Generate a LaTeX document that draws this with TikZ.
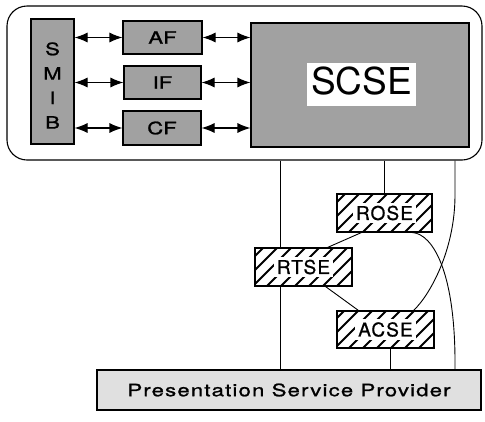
\documentclass[tikz,border=0pt]{standalone}
\usepackage{fontspec}
\setmainfont{TeX Gyre Heros}
\newfontfamily\wfont[FakeStretch=1.3, FakeBold=1.2]{TeX Gyre Heros}
\newfontfamily\pfont[FakeStretch=1.3, FakeBold=1.2, LetterSpace=7]{TeX Gyre Heros}
\newfontfamily\bfont[LetterSpace=6, FakeBold=0.8]{TeX Gyre Heros}
\usetikzlibrary{arrows.meta,calc}
\begin{document}
\begin{tikzpicture}[x=1pt,y=-1pt,
  boxline/.style={draw, line width=1.1pt},
  box/.style={boxline, inner sep=0pt, anchor=center},
  dotbox/.style={box, fill=black!37},
  lightbox/.style={box, fill=black!12},
  hatchbox/.style={box, fill=white,
    path picture={\foreach \k in {-44,-30,...,100}
      \draw[line width=1.9pt] ($(path picture bounding box.south west)+(\k,0)$) -- ++(60,-60);}},
  smallfont/.style={font=\wfont\fontsize{17}{20}\selectfont},
  midfont/.style={font=\bfont\fontsize{19}{22}\selectfont},
  dbl/.style={line width=1.1pt, {Latex[length=13pt,width=10pt]}-{Latex[length=13pt,width=10pt]}},
  conn/.style={line width=0.9pt}
]
\useasboundingbox (0,0) rectangle (485,421);
% outer frame
\node[box, rounded corners=20pt, minimum width=475, minimum height=154] (outer) at (244.5,83) {};
% top boxes
\node[dotbox, minimum width=43, minimum height=125,
  label={[font=\wfont\fontsize{17}{24.5}\selectfont, align=center, yshift=-4pt]center:S\\M\\I\\B}] (smib) at (52.5,81.5) {};
\node[dotbox, smallfont, minimum width=79, minimum height=33] (af) at (162.5,37.5) {AF};
\node[dotbox, smallfont, minimum width=77, minimum height=33] (iff) at (162.5,82.5) {IF};
\node[dotbox, smallfont, minimum width=78, minimum height=34] (cf) at (162,128) {CF};
\node[dotbox, minimum width=218, minimum height=124] (scse) at (360,85) {};
\node[fill=white, inner xsep=4pt, inner ysep=4pt, text height=27pt, text depth=8pt,
  font=\fontsize{37}{40}\selectfont] (scsel) at (361.5,84.5) {SCSE};
% arrows
\draw[dbl] (smib.east |- af) -- (af.west);
\draw[dbl] (smib.east |- iff) -- (iff.west);
\draw[dbl] (smib.east |- cf) -- (cf.west);
\draw[dbl] (af.east) -- (scse.west |- af);
\draw[dbl] (iff.east) -- (scse.west |- iff);
\draw[dbl] (cf.east) -- (scse.west |- cf);
% lower boxes
\node[hatchbox, midfont, minimum width=95, minimum height=38] (rose) at (384.5,213) {\colorbox{white}{ROSE}};
\node[hatchbox, midfont, minimum width=97, minimum height=38] (rtse) at (303.5,267) {\colorbox{white}{RTSE}};
\node[hatchbox, midfont, minimum width=97, minimum height=37] (acse) at (385.5,329.5) {\colorbox{white}{ACSE}};
\node[lightbox, font=\pfont\fontsize{17}{20}\selectfont, minimum width=384, minimum height=40] (pres) at (289,390) {Presentation Service Provider};
% connector columns
\coordinate (c1) at (280,0);
\coordinate (c2) at (455,0);
\coordinate (c3) at (390,0);
\draw[conn] (outer.south -| c1) -- (rtse.north -| c1);
\draw[conn] (rtse.south -| c1) -- (pres.north -| c1);
\draw[conn] (outer.south -| rose.north) -- (rose.north);
\draw[conn] (acse.south -| c3) -- (pres.north -| c3);
\draw[conn] ($(rose.south west)+(25,0)$) -- ($(rtse.north east)+(-25,0)$);
\draw[conn] ($(rtse.south east)+(-27,0)$) -- ($(acse.north west)+(22,0)$);
\draw[conn] (outer.south -| c2) -- (455,195) .. controls (455,250) and (430,295) .. ($(acse.north east)+(-21,0)$);
\draw[conn] ($(rose.south east)+(-20,0)$) .. controls (432,234) and (456,270) .. (pres.north -| c2);
\end{tikzpicture}
\end{document}
